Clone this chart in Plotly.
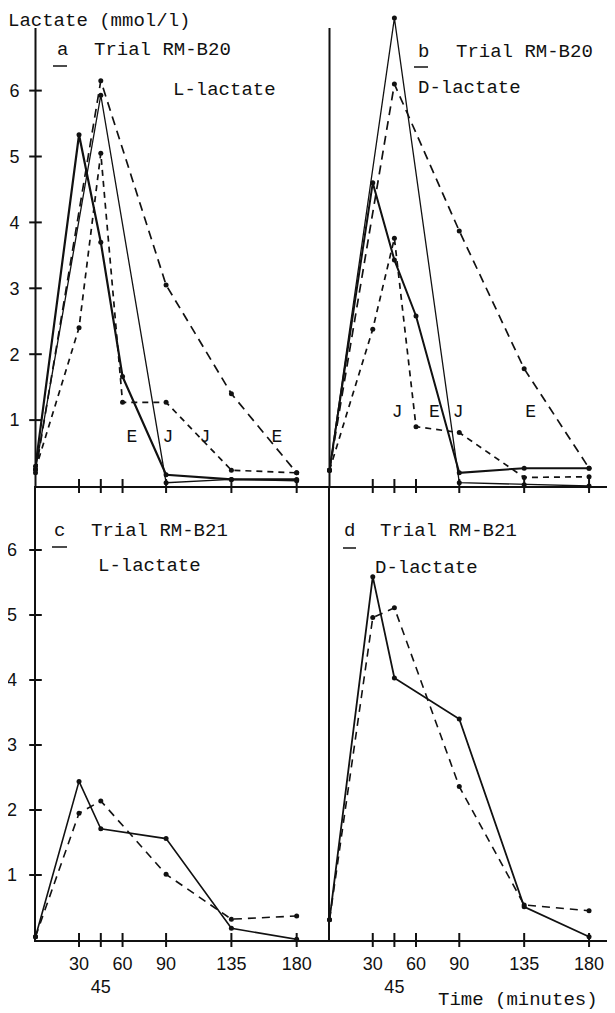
import plotly.graph_objects as go

# The page body has an 8 px default margin, so the figure is made 8 px
# smaller and every pixel position below is measured on the full page.
PAGE_W, PAGE_H = 615, 1013
OFF = 8
FW, FH = PAGE_W - OFF, PAGE_H - OFF

# ---------------- data ----------------
T = [0, 30, 45, 60, 90, 135, 180]              # sampling times (minutes)
tick_minutes = [30, 45, 60, 90, 135, 180]
tick_labels = ["30", "<br>45", "60", "90", "135", "180"]
y_ticks = [1, 2, 3, 4, 5, 6]
y_tick_labels = ["1", "2", "3", "4", "5", "6"]

# panel a : Trial RM-B20, L-lactate
a_solid_thick = [0.30, 5.33, 3.70, 1.66, 0.17, 0.10, 0.10]
a_solid_thin = [0.25, None, 5.93, None, 0.05, 0.10, 0.08]
a_dash_long = [0.20, None, 6.15, None, 3.05, 1.40, 0.20]
a_dash_short = [0.25, 2.40, 5.05, 1.27, 1.27, 0.24, 0.20]

# panel b : Trial RM-B20, D-lactate
b_solid_thick = [0.24, 4.60, 3.43, 2.58, 0.20, 0.27, 0.27]
b_solid_thin = [0.24, None, 7.10, None, 0.05, 0.02, 0.00]
b_dash_long = [0.24, None, 6.10, None, 3.87, 1.78, 0.27]
b_dash_short = [0.24, 2.38, 3.76, 0.90, 0.81, 0.13, 0.14]

# panel c : Trial RM-B21, L-lactate
c_solid = [0.05, 2.44, 1.71, None, 1.56, 0.18, 0.01]
c_dash = [0.05, 1.95, 2.14, None, 1.01, 0.32, 0.37]

# panel d : Trial RM-B21, D-lactate
d_solid = [0.31, 5.59, 4.03, None, 3.40, 0.51, 0.05]
d_dash = [0.31, 4.96, 5.11, None, 2.36, 0.54, 0.45]

# E / J curve labels (minutes, mmol/l)
a_lab_x = [66.5, 91.3, 116.8, 166.4]
a_lab_y = [0.74, 0.74, 0.74, 0.74]
a_lab_t = ["E", "J", "J", "E"]
b_lab_x = [47.0, 72.7, 89.3, 139.5]
b_lab_y = [1.12, 1.12, 1.12, 1.12]
b_lab_t = ["J", "E", "J", "E"]

# ---------------- layout geometry (page pixels) ----------------
INK = "#111111"
MONO = "Liberation Mono"
SANS = "Liberation Sans"

LX0, RX0 = 35.5, 329.5          # x=0 pixel of left / right panels
SXL, SXR = 1.451, 1.442         # px per minute
TOP0, BOT0 = 486.0, 940.0       # y=0 pixel of top / bottom panels
SYT, SYB = 65.9, 65.0           # px per mmol/l
TOP_RANGE = (TOP0 - OFF) / SYT


def px(x):
    return (x - OFF) / FW


def py(y):
    return 1 - (y - OFF) / FH


fig = go.Figure()


def line_trace(y, xa, ya, width, dash):
    fig.add_trace(go.Scatter(
        x=T, y=y, xaxis=xa, yaxis=ya, mode="lines+markers",
        connectgaps=True, cliponaxis=False,
        line=dict(color=INK, width=width, dash=dash),
        marker=dict(color=INK, size=5),
        hoverinfo="skip", showlegend=False))


def tick_trace(xa, ya, with_y):
    fig.add_trace(go.Scatter(
        x=tick_minutes, y=[0] * len(tick_minutes), xaxis=xa, yaxis=ya,
        mode="markers", cliponaxis=False,
        marker=dict(symbol="line-ns-open", size=10, color=INK,
                    line=dict(color=INK, width=2)),
        hoverinfo="skip", showlegend=False))
    if with_y:
        fig.add_trace(go.Scatter(
            x=[0] * len(y_ticks), y=y_ticks, xaxis=xa, yaxis=ya,
            mode="markers", cliponaxis=False,
            marker=dict(symbol="line-ew-open", size=9, color=INK,
                        line=dict(color=INK, width=2)),
            hoverinfo="skip", showlegend=False))


# panel a
line_trace(a_solid_thick, "x", "y", 2.2, "solid")
line_trace(a_solid_thin, "x", "y", 1.3, "solid")
line_trace(a_dash_long, "x", "y", 1.7, "9px,6px")
line_trace(a_dash_short, "x", "y", 1.7, "6px,5px")
tick_trace("x", "y", True)

# panel b
line_trace(b_solid_thick, "x2", "y2", 2.0, "solid")
line_trace(b_solid_thin, "x2", "y2", 1.3, "solid")
line_trace(b_dash_long, "x2", "y2", 1.7, "9px,6px")
line_trace(b_dash_short, "x2", "y2", 1.7, "6px,5px")
tick_trace("x2", "y2", False)

# panel c
line_trace(c_solid, "x3", "y3", 1.6, "solid")
line_trace(c_dash, "x3", "y3", 1.6, "8px,6px")
tick_trace("x3", "y3", True)

# panel d
line_trace(d_solid, "x4", "y4", 1.8, "solid")
line_trace(d_dash, "x4", "y4", 1.6, "8px,6px")
tick_trace("x4", "y4", False)

# curve labels
for xs, ys, ts, xa, ya in [(a_lab_x, a_lab_y, a_lab_t, "x", "y"),
                           (b_lab_x, b_lab_y, b_lab_t, "x2", "y2")]:
    fig.add_trace(go.Scatter(
        x=xs, y=ys, text=ts, xaxis=xa, yaxis=ya, mode="text",
        textfont=dict(family=MONO, size=18, color=INK),
        hoverinfo="skip", showlegend=False, cliponaxis=False))

base_x = dict(showgrid=False, zeroline=False, showline=True, linewidth=2,
              linecolor=INK, ticks="", fixedrange=True, automargin=False)
base_y = dict(showgrid=False, zeroline=False, ticks="", fixedrange=True,
              automargin=False)

xl_dom = [px(LX0), px(RX0)]
xr_dom = [px(RX0), 1.0]
xl_rng = [0, (RX0 - LX0) / SXL]
xr_rng = [0, (PAGE_W - RX0) / SXR]
yt_dom = [py(TOP0), 1.0]
yb_dom = [py(BOT0), py(TOP0)]
yb_rng = [0, (BOT0 - TOP0) / SYB]

xlab = dict(showticklabels=True, tickvals=tick_minutes, ticktext=tick_labels,
            tickangle=0,
            tickfont=dict(family=SANS, size=18, color=INK),
            ticklabelstandoff=6)


def ylab(standoff):
    return dict(showticklabels=True, tickvals=y_ticks, ticktext=y_tick_labels,
                tickfont=dict(family=SANS, size=18, color=INK),
                ticklabelstandoff=standoff)


fig.update_layout(
    width=FW, height=FH,
    margin=dict(l=0, r=0, t=0, b=0, autoexpand=False),
    paper_bgcolor="white", plot_bgcolor="white",
    xaxis=dict(**base_x, domain=xl_dom, range=xl_rng, anchor="y",
               showticklabels=False),
    yaxis=dict(**base_y, domain=yt_dom, range=[0, TOP_RANGE], anchor="x",
               showline=False, **ylab(15)),
    xaxis2=dict(**base_x, domain=xr_dom, range=xr_rng, anchor="y2",
                showticklabels=False),
    yaxis2=dict(**base_y, domain=yt_dom, range=[0, TOP_RANGE], anchor="x2",
                showline=False, showticklabels=False),
    xaxis3=dict(**base_x, domain=xl_dom, range=xl_rng, anchor="y3", **xlab),
    yaxis3=dict(**base_y, domain=yb_dom, range=yb_rng, anchor="x3",
                showline=True, linewidth=2, linecolor=INK, **ylab(13)),
    xaxis4=dict(**base_x, domain=xr_dom, range=xr_rng, anchor="y4", **xlab),
    yaxis4=dict(**base_y, domain=yb_dom, range=yb_rng, anchor="x4",
                showline=True, linewidth=2, linecolor=INK,
                showticklabels=False),
)

# y-axis lines of the top panels (stop at 6.95 as in the original)
top_axis_end = (TOP0 - 28) / SYT
for xpix, yr in [(LX0, "y"), (RX0, "y2")]:
    fig.add_shape(type="line", xref="paper", yref=yr, x0=px(xpix),
                  x1=px(xpix), y0=0, y1=top_axis_end,
                  line=dict(color=INK, width=2))


# ---------------- text ----------------
def note(text, x, y, size=19, xanchor="left"):
    fig.add_annotation(text=text, x=px(x), y=py(y), xref="paper",
                       yref="paper", xanchor=xanchor, yanchor="middle",
                       showarrow=False,
                       font=dict(family=MONO, size=size, color=INK))


note("Lactate (mmol/l)", 6, 21)
note("Time (minutes)", 436, 1000)

note("a", 62, 50, xanchor="center")
note("Trial RM-B20", 92, 50)
note("L-lactate", 171, 90)

note("b", 423, 52, xanchor="center")
note("Trial RM-B20", 454, 52)
note("D-lactate", 416, 88)

note("c", 59, 531, xanchor="center")
note("Trial RM-B21", 89, 531)
note("L-lactate", 96, 566)

note("d", 349, 531, xanchor="center")
note("Trial RM-B21", 378, 531)
note("D-lactate", 373, 568)

# short underline marks under the panel letters
for x0, x1, y in [(53, 67, 66), (414, 428, 67), (52, 67, 547), (343, 356, 548)]:
    fig.add_shape(type="line", xref="paper", yref="paper",
                  x0=px(x0), x1=px(x1), y0=py(y), y1=py(y),
                  line=dict(color=INK, width=1.5))

fig.write_html("out.html")
